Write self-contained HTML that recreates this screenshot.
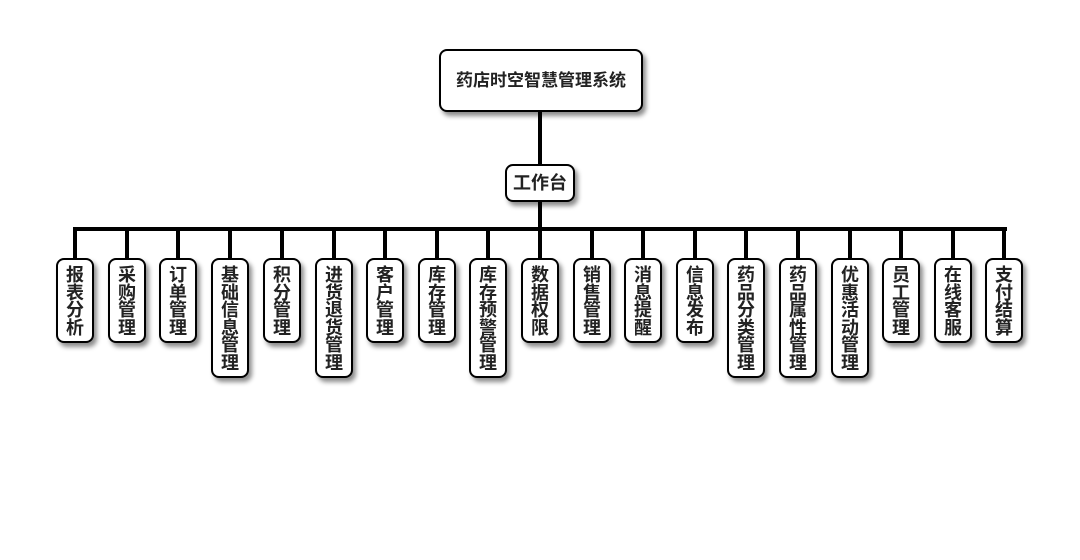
<!DOCTYPE html>
<html><head><meta charset="utf-8"><style>
body{margin:0;width:1080px;height:560px;background:#fff;position:relative;overflow:hidden;font-family:"Liberation Sans","Noto Sans CJK SC",sans-serif;}
.b{position:absolute;box-sizing:border-box;border:2px solid #000;border-radius:8px;background:#fff;box-shadow:3px 4px 5px rgba(0,0,0,0.45);font-weight:bold;color:#222;text-align:center;}
.c{width:38px;top:258px;font-size:18px;line-height:17.5px;padding:7px 7px 0 7px;word-break:break-all;overflow:hidden;}
.l{position:absolute;background:#000;}
</style></head><body>
<div class="b" style="left:439px;top:49px;width:204px;height:63px;font-size:17px;line-height:59px;">药店时空智慧管理系统</div>
<div class="l" style="left:538px;top:111px;width:4px;height:54px;"></div>
<div class="b" style="left:505px;top:164px;width:70px;height:38px;font-size:18px;line-height:34px;">工作台</div>
<div class="l" style="left:538px;top:201px;width:4px;height:30px;"></div>
<div class="l" style="left:73px;top:227px;width:934px;height:4px;"></div>
<div class="l" style="left:73px;top:227px;width:4px;height:32px"></div><div class="b c" style="left:56px;height:85px">报表分析</div>
<div class="l" style="left:125px;top:227px;width:4px;height:32px"></div><div class="b c" style="left:108px;height:85px">采购管理</div>
<div class="l" style="left:176px;top:227px;width:4px;height:32px"></div><div class="b c" style="left:159px;height:85px">订单管理</div>
<div class="l" style="left:228px;top:227px;width:4px;height:32px"></div><div class="b c" style="left:211px;height:120px">基础信息管理</div>
<div class="l" style="left:280px;top:227px;width:4px;height:32px"></div><div class="b c" style="left:263px;height:85px">积分管理</div>
<div class="l" style="left:332px;top:227px;width:4px;height:32px"></div><div class="b c" style="left:315px;height:120px">进货退货管理</div>
<div class="l" style="left:383px;top:227px;width:4px;height:32px"></div><div class="b c" style="left:366px;height:85px">客户管理</div>
<div class="l" style="left:435px;top:227px;width:4px;height:32px"></div><div class="b c" style="left:418px;height:85px">库存管理</div>
<div class="l" style="left:486px;top:227px;width:4px;height:32px"></div><div class="b c" style="left:469px;height:120px">库存预警管理</div>
<div class="l" style="left:538px;top:227px;width:4px;height:32px"></div><div class="b c" style="left:521px;height:85px">数据权限</div>
<div class="l" style="left:590px;top:227px;width:4px;height:32px"></div><div class="b c" style="left:573px;height:85px">销售管理</div>
<div class="l" style="left:641px;top:227px;width:4px;height:32px"></div><div class="b c" style="left:624px;height:85px">消息提醒</div>
<div class="l" style="left:693px;top:227px;width:4px;height:32px"></div><div class="b c" style="left:676px;height:85px">信息发布</div>
<div class="l" style="left:744px;top:227px;width:4px;height:32px"></div><div class="b c" style="left:727px;height:120px">药品分类管理</div>
<div class="l" style="left:796px;top:227px;width:4px;height:32px"></div><div class="b c" style="left:779px;height:120px">药品属性管理</div>
<div class="l" style="left:848px;top:227px;width:4px;height:32px"></div><div class="b c" style="left:831px;height:120px">优惠活动管理</div>
<div class="l" style="left:899px;top:227px;width:4px;height:32px"></div><div class="b c" style="left:882px;height:85px">员工管理</div>
<div class="l" style="left:951px;top:227px;width:4px;height:32px"></div><div class="b c" style="left:934px;height:85px">在线客服</div>
<div class="l" style="left:1002px;top:227px;width:4px;height:32px"></div><div class="b c" style="left:985px;height:85px">支付结算</div>
</body></html>
